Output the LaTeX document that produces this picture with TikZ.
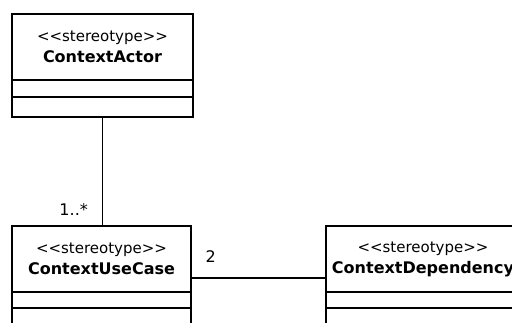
\documentclass[tikz,border=0pt]{standalone}
\usepackage{fontspec}
\setmainfont{DejaVu Sans}
\usetikzlibrary{positioning}

\tikzset{
  classhead/.style={draw, line width=1.3pt, minimum width=181pt, minimum height=66pt,
    inner sep=0pt, outer sep=0pt, align=center, font=\fontsize{15}{21}\selectfont},
  compart/.style={draw, line width=1.3pt, minimum width=181pt, inner sep=0pt, outer sep=0pt},
  mult/.style={inner sep=0pt, font=\fontsize{16}{18}\selectfont},
}
\newcommand{\stereo}{{<}{<}stereotype{>}{>}}
\newcommand{\clname}[1]{{\fontsize{16}{21}\selectfont\bfseries #1}}

\begin{document}
\begin{tikzpicture}[x=1pt, y=-1pt]
  \useasboundingbox (0,0) rectangle (512,323);
  \fill[white] (0,0) rectangle (512,323);
  \clip (0,0) rectangle (512,323);

  % actor class
  \node[classhead] at (102.5, 47) (actor) {\stereo\\\clname{ContextActor}};
  \node[compart, minimum height=17pt, below=0pt of actor] (actorattr) {};
  \node[compart, minimum height=20pt, below=0pt of actorattr] (actorop) {};

  % use case class
  \node[classhead, minimum width=179pt] at (101.5, 259) (usecase) {\stereo\\\clname{ContextUseCase}};
  \node[compart, minimum width=179pt, minimum height=16pt, below=0pt of usecase] (usecaseattr) {};
  \node[compart, minimum width=179pt, minimum height=20pt, below=0pt of usecaseattr] (usecaseop) {};

  % dependency class
  \node[classhead, minimum width=194pt] at (423, 259) (depend) {\stereo\\\clname{ContextDependency}};
  \node[compart, minimum width=194pt, minimum height=16pt, below=0pt of depend] (dependattr) {};
  \node[compart, minimum width=194pt, minimum height=20pt, below=0pt of dependattr] (dependop) {};

  \draw[line width=1.3pt] (actorop.south) -- node[mult, pos=1, anchor=south east, xshift=-14pt, yshift=10pt] {1..*} (actorop.south |- usecase.north);
  \draw[line width=1.3pt] ([yshift=-19pt]usecase.east) -- node[mult, pos=0, anchor=south west, xshift=14pt, yshift=15pt] {2} ([yshift=-19pt]depend.west);
\end{tikzpicture}
\end{document}
